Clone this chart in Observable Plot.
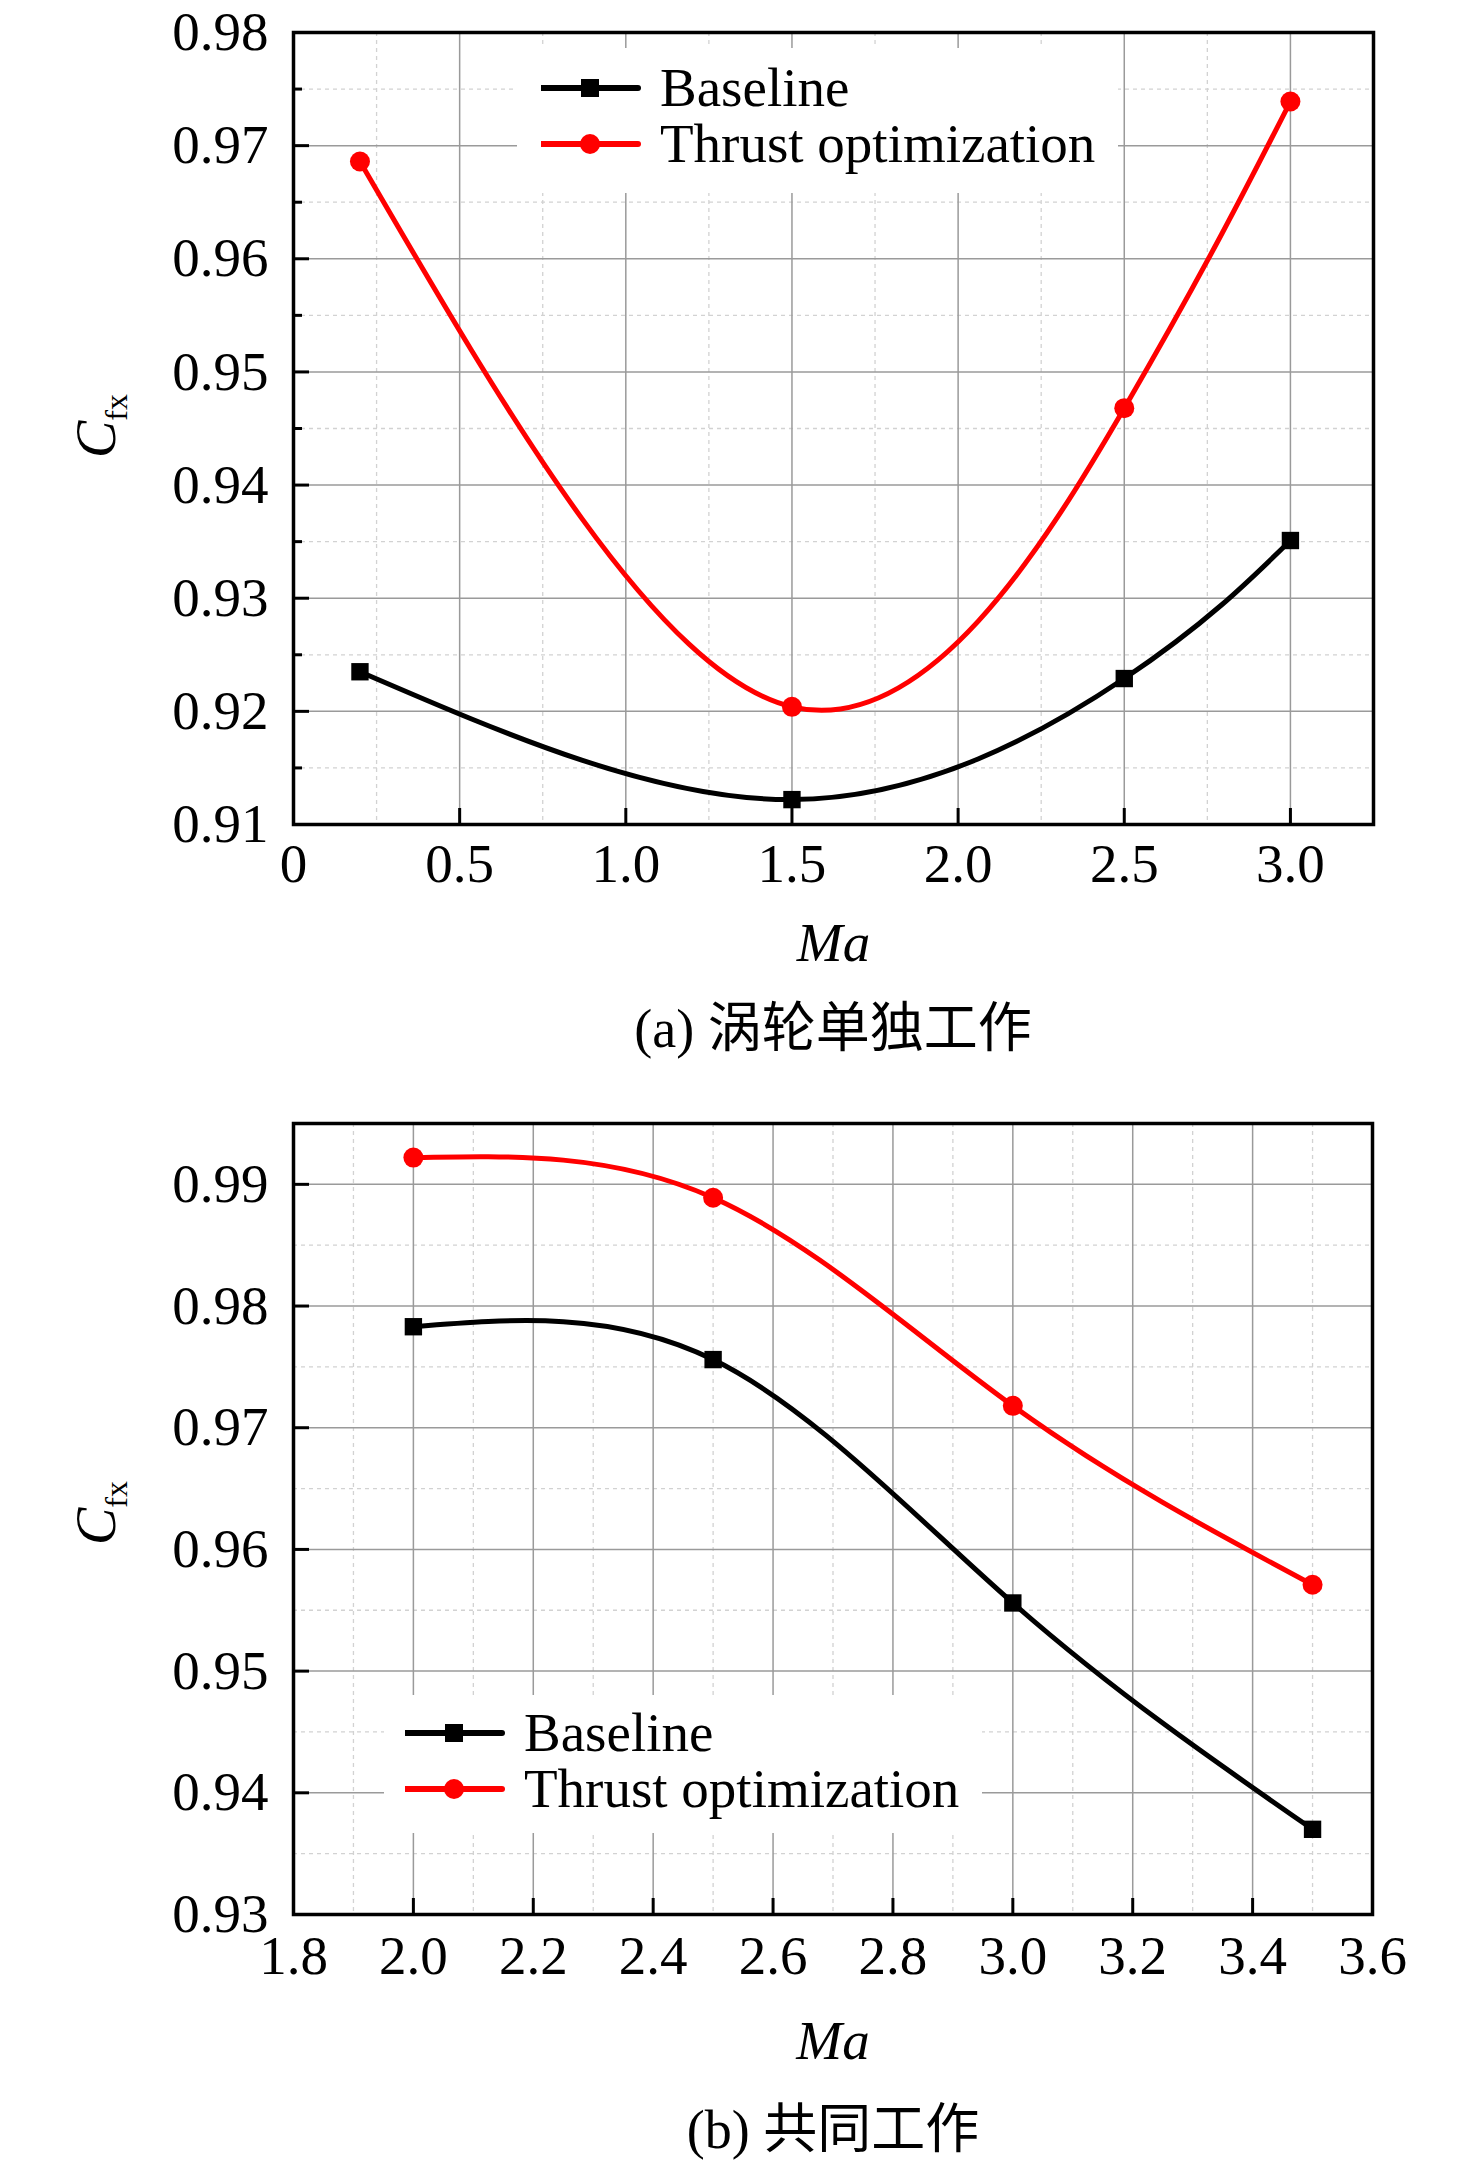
<!DOCTYPE html>
<html>
<head>
<meta charset="utf-8">
<script src="https://cdn.jsdelivr.net/npm/d3@7"></script>
<script src="https://cdn.jsdelivr.net/npm/@observablehq/plot@0.6"></script>
<style>
  html, body { margin: 0; padding: 0; background: #fff; }
  #root { position: relative; width: 1476px; height: 2167px; overflow: hidden; background: #fff; }
  .panel { position: absolute; left: 0; }
  .caption { position: absolute; left: 293px; width: 1080px; text-align: center;
    font-family: "Liberation Serif", "Noto Sans CJK SC", serif; font-size: 54px; line-height: 54px; color: #000; white-space: nowrap; }
  .legend { position: absolute; background: #fff; }
  .legend .sym { position: absolute; }
  .legend .lab { position: absolute; font-family: "Liberation Serif", serif; font-size: 55px; line-height: 60px; color: #000; white-space: nowrap; }
</style>
</head>
<body>
<div id="root"></div>
<script>
// ---- data: (a) 涡轮单独工作 ----
const maA = [0.2, 1.5, 2.5, 3.0];
const baselineA = [0.9235, 0.9122, 0.9229, 0.9351];
const thrustA = [0.9686, 0.9204, 0.9468, 0.9739];

// ---- data: (b) 共同工作 ----
const maB = [2.0, 2.5, 3.0, 3.5];
const baselineB = [0.9783, 0.9756, 0.9556, 0.9370];
const thrustB = [0.9922, 0.9889, 0.9718, 0.9571];

// ---- ticks ----
const xMajorA = [0, 0.5, 1.0, 1.5, 2.0, 2.5, 3.0];
const xMinorA = [0.25, 0.75, 1.25, 1.75, 2.25, 2.75];
const yMajorA = [0.91, 0.92, 0.93, 0.94, 0.95, 0.96, 0.97, 0.98];
const yMinorA = [0.915, 0.925, 0.935, 0.945, 0.955, 0.965, 0.975];
const xLabelsA = ["0", "0.5", "1.0", "1.5", "2.0", "2.5", "3.0"];

const xMajorB = [1.8, 2.0, 2.2, 2.4, 2.6, 2.8, 3.0, 3.2, 3.4, 3.6];
const xMinorB = [1.9, 2.1, 2.3, 2.5, 2.7, 2.9, 3.1, 3.3, 3.5];
const yMajorB = [0.93, 0.94, 0.95, 0.96, 0.97, 0.98, 0.99];
const yMinorB = [0.935, 0.945, 0.955, 0.965, 0.975, 0.985];
const xLabelsB = ["1.8", "2.0", "2.2", "2.4", "2.6", "2.8", "3.0", "3.2", "3.4", "3.6"];

const seriesNames = ["Baseline", "Thrust optimization"];
const seriesColors = ["#000000", "#ff0000"];
const yLabelMain = "C";
const yLabelSub = "fx";
const xLabel = "Ma";
const captions = ["(a) 涡轮单独工作", "(b) 共同工作"];

const root = document.getElementById("root");
const FONT = "Liberation Serif";

function makePanel(cfg) {
  const marks = [
    Plot.ruleX(cfg.xMinor, {stroke: "#d2d2d2", strokeWidth: 1.3, strokeDasharray: "4,4"}),
    Plot.ruleY(cfg.yMinor, {stroke: "#d2d2d2", strokeWidth: 1.3, strokeDasharray: "4,4"}),
    Plot.ruleX(cfg.xMajor, {stroke: "#9a9a9a", strokeWidth: 1.5}),
    Plot.ruleY(cfg.yMajor, {stroke: "#9a9a9a", strokeWidth: 1.5}),
    Plot.line(cfg.ma, {x: cfg.ma, y: cfg.base, curve: "natural", stroke: seriesColors[0], strokeWidth: 5}),
    Plot.line(cfg.ma, {x: cfg.ma, y: cfg.thrust, curve: "natural", stroke: seriesColors[1], strokeWidth: 5}),
    Plot.dot(cfg.ma, {x: cfg.ma, y: cfg.base, symbol: "square", r: 9.8, fill: seriesColors[0], stroke: null}),
    Plot.dot(cfg.ma, {x: cfg.ma, y: cfg.thrust, symbol: "circle", r: 10, fill: seriesColors[1], stroke: null}),
    Plot.axisX(cfg.xMajor, {tickSize: -16, tickPadding: 16 + cfg.xPad, strokeWidth: 3,
      tickFormat: (d, i) => cfg.xLabels[i], fontSize: 55, label: null}),
    Plot.axisY(cfg.yMajor, {tickSize: -16, tickPadding: 16 + 25, strokeWidth: 3,
      tickFormat: d => d.toFixed(2), fontSize: 55, label: null})
  ];
  if (cfg.yMinorTicks) {
    marks.push(Plot.axisY(cfg.yMinor, {tickSize: -9, strokeWidth: 3, tickFormat: () => "", label: null}));
  }
  marks.push(Plot.text([xLabel], {frameAnchor: "bottom", dy: cfg.maDy, fontSize: 55, fontStyle: "italic", fill: "#000"}));
  marks.push(Plot.frame({stroke: "#000", strokeWidth: 3.5}));

  const svg = Plot.plot({
    width: 1476,
    height: cfg.height,
    marginTop: cfg.marginTop,
    marginBottom: cfg.marginBottom,
    marginLeft: 293,
    marginRight: cfg.marginRight,
    x: {domain: cfg.xDomain},
    y: {domain: cfg.yDomain},
    style: {fontFamily: FONT, fontSize: "55px", color: "#000", background: "transparent", overflow: "visible"},
    marks
  });

  // rotated y-axis label C_fx (italic C with upright subscript)
  const t = d3.select(svg).append("text")
    .attr("transform", "translate(115,423) rotate(-90)")
    .attr("text-anchor", "middle")
    .attr("font-family", FONT)
    .attr("fill", "#000");
  t.append("tspan").attr("font-style", "italic").attr("font-size", 56).text(yLabelMain);
  t.append("tspan").attr("font-size", 32).attr("dy", 12).text(yLabelSub);

  const wrap = document.createElement("div");
  wrap.className = "panel";
  wrap.style.top = cfg.top + "px";
  wrap.appendChild(svg);
  root.appendChild(wrap);

  // legend (overlay with white background)
  const lg = document.createElement("div");
  lg.className = "legend";
  Object.assign(lg.style, {left: cfg.legend.left + "px", top: cfg.legend.top + "px",
    width: cfg.legend.width + "px", height: cfg.legend.height + "px"});
  cfg.legend.rows.forEach((ry, i) => {
    const s = d3.create("svg").attr("class", "sym").attr("width", 100).attr("height", 26)
      .style("left", cfg.legend.symLeft + "px").style("top", (ry - 13) + "px");
    s.append("line").attr("x1", 1).attr("x2", 97).attr("y1", 13).attr("y2", 13)
      .attr("stroke", seriesColors[i]).attr("stroke-width", 6).attr("stroke-linecap", "round");
    if (i === 0) s.append("rect").attr("x", 49 - 9).attr("y", 13 - 9).attr("width", 18).attr("height", 18).attr("fill", seriesColors[i]);
    else s.append("circle").attr("cx", 49).attr("cy", 13).attr("r", 10).attr("fill", seriesColors[i]);
    lg.appendChild(s.node());
    const lab = document.createElement("div");
    lab.className = "lab";
    lab.style.left = cfg.legend.textLeft + "px";
    lab.style.top = (ry - 30) + "px";
    lab.textContent = seriesNames[i];
    lg.appendChild(lab);
  });
  root.appendChild(lg);

  const cap = document.createElement("div");
  cap.className = "caption";
  cap.style.top = cfg.captionTop + "px";
  cap.textContent = cfg.caption;
  root.appendChild(cap);
}

makePanel({
  top: 3, height: 975, marginTop: 29, marginBottom: 154, marginRight: 103,
  xDomain: [0, 3.25], yDomain: [0.91, 0.98],
  xMajor: xMajorA, xMinor: xMinorA, yMajor: yMajorA, yMinor: yMinorA, xLabels: xLabelsA,
  yMinorTicks: true, xPad: 18, maDy: 136,
  ma: maA, base: baselineA, thrust: thrustA,
  legend: {left: 517, top: 48, width: 601, height: 145, rows: [40, 96], symLeft: 24, textLeft: 143},
  caption: captions[0], captionTop: 1002
});

makePanel({
  top: 1090, height: 1000, marginTop: 33, marginBottom: 176, marginRight: 104,
  xDomain: [1.8, 3.6], yDomain: [0.93, 0.995],
  xMajor: xMajorB, xMinor: xMinorB, yMajor: yMajorB, yMinor: yMinorB, xLabels: xLabelsB,
  yMinorTicks: false, xPad: 20, maDy: 144,
  ma: maB, base: baselineB, thrust: thrustB,
  legend: {left: 384, top: 1695, width: 598, height: 138, rows: [38, 94], symLeft: 21, textLeft: 140},
  caption: captions[1], captionTop: 2103
});
</script>
</body>
</html>
